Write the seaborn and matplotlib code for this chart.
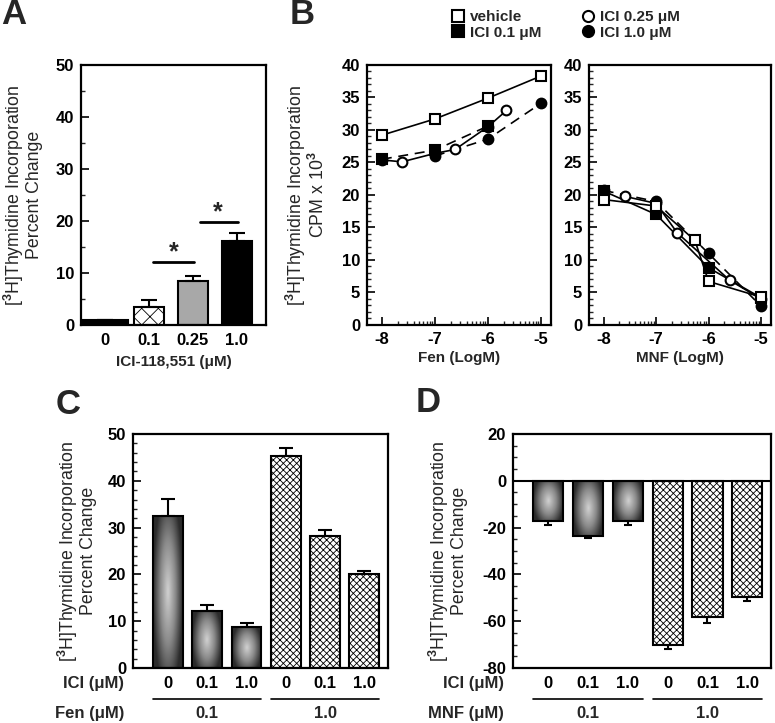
import numpy as np
import pandas as pd
import seaborn as sns
import matplotlib.pyplot as plt
from matplotlib.colors import LinearSegmentedColormap
from matplotlib.lines import Line2D
from matplotlib.ticker import MultipleLocator, FixedLocator
import matplotlib.transforms as mtransforms

# ---- panel A: ICI-118,551 alone ----
a_labels = ['0', '0.1', '0.25', '1.0']
a_mean = [0.9, 3.4, 8.5, 16.2]
a_err = [0.0, 1.5, 0.9, 1.5]

# ---- panel B: dose response, Fen (left) and MNF (right) ----
fen_veh_x = [-8, -7, -6, -5]
fen_veh_y = [29.2, 31.7, 34.9, 38.3]
fen_i01_x = [-8, -7, -6]
fen_i01_y = [25.5, 26.9, 30.6]
fen_i025_x = [-8, -7.62, -7, -6.62, -6, -5.65]
fen_i025_y = [25.4, 25.1, 26.4, 27.0, 30.5, 33.0]
fen_i10_x = [-7, -6, -5]
fen_i10_y = [26.0, 28.6, 34.1]

mnf_veh_x = [-8, -7, -6.26, -6, -5]
mnf_veh_y = [19.3, 18.3, 13.0, 6.7, 4.3]
mnf_i01_x = [-8, -7, -6, -5]
mnf_i01_y = [20.6, 17.0, 8.8, 4.2]
mnf_i025_x = [-7.6, -7, -6.6, -5.6, -5]
mnf_i025_y = [19.8, 18.7, 14.2, 6.9, 4.0]
mnf_i10_x = [-8, -7, -6, -5]
mnf_i10_y = [20.7, 19.0, 11.0, 2.9]

# ---- panels C and D ----
ici_labels = ['0', '0.1', '1.0', '0', '0.1', '1.0']
group_labels = ['0.1', '1.0']
c_mean = [32.5, 12.1, 8.7, 45.2, 28.2, 20.1]
c_err = [3.6, 1.3, 0.9, 1.9, 1.3, 0.6]
d_mean = [-17.1, -23.6, -17.1, -70.3, -58.3, -49.7]
d_err = [1.9, 1.0, 1.7, 1.7, 2.6, 1.5]

# ==== style ====
sns.set_style('ticks')
plt.rcParams['font.family'] = ['Liberation Sans', 'DejaVu Sans']
plt.rcParams['font.weight'] = 'bold'
plt.rcParams['axes.labelweight'] = 'bold'
plt.rcParams['axes.unicode_minus'] = False
plt.rcParams['mathtext.fontset'] = 'custom'
plt.rcParams['mathtext.rm'] = 'Liberation Sans'
plt.rcParams['mathtext.bf'] = 'Liberation Sans:bold'
plt.rcParams['hatch.linewidth'] = 0.6

W, H = 775, 723
fig = plt.figure(figsize=(W / 100, H / 100), dpi=100)


def rect(l, t, r, b):
    return [l / W, 1 - b / H, (r - l) / W, (b - t) / H]


def frame(ax):
    for s in ax.spines.values():
        s.set_visible(True)
        s.set_linewidth(1.6)
        s.set_color('black')
    ax.tick_params(which='major', direction='in', length=6, width=1.2,
                   labelsize=12, colors='black', pad=5)
    ax.tick_params(which='minor', direction='in', length=3, width=1.0)
    ax.set_xlabel('')
    ax.set_ylabel('')


shade_cmap = LinearSegmentedColormap.from_list('shade', ['#cfcfcf', '#8a8a8a', '#2b2b2b'])


def shade(ax, bar):
    # radial grey shading inside a bar
    x0, y0 = bar.get_x(), bar.get_y()
    w, h = bar.get_width(), bar.get_height()
    g = np.linspace(-1, 1, 80)
    X, Y = np.meshgrid(g, g)
    R = np.clip(np.sqrt(X ** 2 + (0.75 * Y) ** 2), 0, 1)
    im = ax.imshow(R, cmap=shade_cmap, extent=(x0, x0 + w, y0, y0 + h),
                   aspect='auto', origin='lower', interpolation='bilinear', zorder=2.5)
    im.set_clip_path(bar)
    bar.set_facecolor('none')
    bar.set_zorder(3)


ylab = '[$^{3}$H]Thymidine Incorporation\nPercent Change'
ylab_kw = dict(fontsize=12.8, fontweight='normal', linespacing=1.0)

# ==== A ====
axA = fig.add_axes(rect(81, 65, 266, 325))
dfA = pd.DataFrame({'ici': a_labels, 'pct': a_mean})
sns.barplot(data=dfA, x='ici', y='pct', order=a_labels, color='black', saturation=1,
            width=0.7, errorbar=None, ax=axA)
for bar, fc in zip(axA.patches, ['black', 'white', '#a8a8a8', 'black']):
    bar.set_facecolor(fc)
    bar.set_edgecolor('black')
    bar.set_linewidth(1.5)
axA.patches[1].set_hatch('xx')
axA.patches[0].set_x(-0.5)
axA.patches[0].set_width(1.02)
axA.errorbar(range(4), a_mean, yerr=[np.zeros(4), a_err], fmt='none', ecolor='black',
             elinewidth=1.5, capsize=6, capthick=1.5, zorder=4)
axA.plot([1.1, 2.02], [12.1, 12.1], color='black', lw=2)
axA.text(1.57, 14.0, '*', ha='center', va='center', fontsize=18)
axA.plot([2.15, 3.02], [19.8, 19.8], color='black', lw=2)
axA.text(2.57, 21.6, '*', ha='center', va='center', fontsize=18)
frame(axA)
axA.set_xlim(-0.545, 3.66)
axA.set_ylim(0, 50)
axA.yaxis.set_major_locator(MultipleLocator(10))
axA.yaxis.set_minor_locator(MultipleLocator(5))
axA.tick_params(axis='x', length=0, pad=6)
axA.set_xlabel('ICI-118,551 (μM)', fontsize=11, labelpad=5)
axA.set_ylabel(ylab, **ylab_kw)
axA.yaxis.set_label_coords(-0.205, 0.5)

# ==== B ====
minor_log = [d + np.log10(k) for d in (-8, -7, -6) for k in range(2, 10)]


def curve(ax, x, y, marker, fill, ls):
    sns.lineplot(x=x, y=y, ax=ax, color='black', lw=1.2, linestyle=ls, sort=False,
                 estimator=None, zorder=2)
    sns.lineplot(x=x, y=y, ax=ax, color='black', linestyle='none', sort=False,
                 estimator=None, marker=marker, markersize=7.5 if marker == 's' else 7,
                 markerfacecolor=fill, markeredgecolor='black', markeredgewidth=1.5, zorder=3)


axB1 = fig.add_axes(rect(367, 65, 551, 325))
axB2 = fig.add_axes(rect(589, 65, 771, 325))
dash = (0, (6, 4))
curve(axB1, fen_i025_x, fen_i025_y, 'o', 'white', '-')
curve(axB1, fen_veh_x, fen_veh_y, 's', 'white', '-')
curve(axB1, fen_i01_x, fen_i01_y, 's', 'black', dash)
curve(axB1, fen_i10_x, fen_i10_y, 'o', 'black', dash)

curve(axB2, mnf_i025_x, mnf_i025_y, 'o', 'white', '-')
curve(axB2, mnf_i01_x, mnf_i01_y, 's', 'black', '-')
curve(axB2, mnf_i10_x, mnf_i10_y, 'o', 'black', dash)
curve(axB2, mnf_veh_x, mnf_veh_y, 's', 'white', '-')

for ax, lab in [(axB1, 'Fen (LogM)'), (axB2, 'MNF (LogM)')]:
    frame(ax)
    ax.set_xlim(-8.28, -4.81)
    ax.set_ylim(0, 40)
    ax.set_xticks([-8, -7, -6, -5])
    ax.set_xticklabels(['-8', '-7', '-6', '-5'])
    ax.xaxis.set_minor_locator(FixedLocator(minor_log))
    ax.yaxis.set_major_locator(MultipleLocator(5))
    ax.yaxis.set_minor_locator(MultipleLocator(1))
    ax.set_xlabel(lab, fontsize=11, labelpad=3)
axB1.set_ylabel('[$^{3}$H]Thymidine Incorporation\nCPM x 10$^{3}$', **ylab_kw)
axB1.yaxis.set_label_coords(-0.212, 0.5)

handles = [
    Line2D([], [], marker='s', ls='none', ms=8, mfc='white', mec='black', mew=1.5),
    Line2D([], [], marker='s', ls='none', ms=8, mfc='black', mec='black', mew=1.5),
    Line2D([], [], marker='o', ls='none', ms=8, mfc='white', mec='black', mew=1.5),
    Line2D([], [], marker='o', ls='none', ms=8, mfc='black', mec='black', mew=1.5),
]
fig.legend(handles, ['vehicle', 'ICI 0.1 μM', 'ICI 0.25 μM', 'ICI 1.0 μM'], ncol=2,
           loc='upper left', bbox_to_anchor=(452 / W, 1 - 10 / H), frameon=False,
           fontsize=11, handlelength=0.8, handletextpad=0.4, columnspacing=2.6,
           labelspacing=0.1, borderpad=0, borderaxespad=0)


# ==== C and D ====
def grouped(ax, means, errs, agent):
    df = pd.DataFrame({'cond': range(6), 'pct': means})
    sns.barplot(data=df, x='cond', y='pct', color='white', saturation=1, width=0.76,
                errorbar=None, ax=ax)
    for i, bar in enumerate(ax.patches):
        bar.set_edgecolor('black')
        bar.set_linewidth(1.5)
        if i < 3:
            shade(ax, bar)
        else:
            bar.set_facecolor('white')
            bar.set_hatch('xxxxx')
    m = np.array(means)
    e = np.array(errs)
    up = np.where(m >= 0, e, 0)
    dn = np.where(m < 0, e, 0)
    ax.errorbar(range(6), means, yerr=[dn, up], fmt='none', ecolor='black',
                elinewidth=1.5, capsize=5 if agent == 'Fen' else 3, capthick=1.5, zorder=4)
    frame(ax)
    ax.set_xlim(-0.89, 5.6)
    ax.set_xticks(range(6))
    ax.set_xticklabels(ici_labels)
    ax.tick_params(axis='x', length=0, pad=6)
    tr = mtransforms.blended_transform_factory(ax.transData, ax.transAxes)
    ax.text(-0.035, -0.066, 'ICI (μM)', transform=ax.transAxes, ha='right', va='center',
            fontsize=12)
    ax.text(-0.035, -0.195, f'{agent} (μM)', transform=ax.transAxes, ha='right',
            va='center', fontsize=12)
    for g, lab in enumerate(group_labels):
        ax.plot([3 * g - 0.38, 3 * g + 2.38], [-0.132, -0.132], color='black', lw=1.2,
                transform=tr, clip_on=False)
        ax.text(3 * g + 1, -0.195, lab, transform=tr, ha='center', va='center', fontsize=12)
    ax.set_ylabel(ylab, **ylab_kw)


axC = fig.add_axes(rect(133, 434, 388, 668))
grouped(axC, c_mean, c_err, 'Fen')
axC.set_ylim(0, 50)
axC.yaxis.set_major_locator(MultipleLocator(10))
axC.yaxis.set_minor_locator(MultipleLocator(2))
axC.yaxis.set_label_coords(-0.141, 0.5)

axD = fig.add_axes(rect(513, 434, 771, 668))
grouped(axD, d_mean, d_err, 'MNF')
axD.axhline(0, color='black', lw=1.5, zorder=5)
axD.set_ylim(-80, 20)
axD.yaxis.set_major_locator(MultipleLocator(20))
axD.yaxis.set_minor_locator(MultipleLocator(5))
axD.yaxis.set_label_coords(-0.174, 0.5)

# panel letters
for lab, x, y in [('A', 14, 15), ('B', 302, 15), ('C', 68, 405), ('D', 428, 403)]:
    fig.text(x / W, 1 - y / H, lab, fontsize=25, ha='center', va='center')

fig.savefig('out.png', dpi=100)
